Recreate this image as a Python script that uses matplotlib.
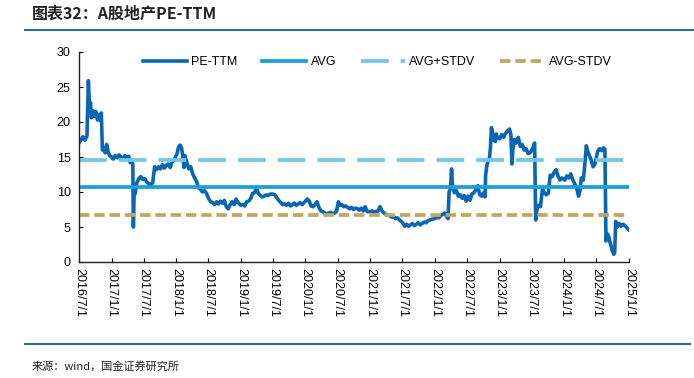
import matplotlib
matplotlib.use('Agg')
import matplotlib.pyplot as plt
import pandas as pd

plt.rcParams['font.family'] = ['Liberation Sans', 'Noto Sans CJK SC', 'DejaVu Sans']
plt.rcParams['lines.scale_dashes'] = False

# PE-TTM series
dates = [
    '2016-07-01', '2016-07-12', '2016-07-23', '2016-08-03', '2016-08-15', '2016-08-23', '2016-08-29', '2016-09-04',
    '2016-09-09', '2016-09-18', '2016-09-26', '2016-10-04', '2016-10-13', '2016-10-21', '2016-10-29', '2016-11-04',
    '2016-11-10', '2016-11-18', '2016-11-26', '2016-12-04', '2016-12-13', '2016-12-21',
    '2017-01-01', '2017-01-10', '2017-01-21', '2017-02-01', '2017-02-12', '2017-02-23', '2017-03-06', '2017-03-17',
    '2017-03-28', '2017-04-08', '2017-04-16', '2017-04-25', '2017-05-01', '2017-05-04', '2017-05-09', '2017-05-15',
    '2017-05-23', '2017-06-04', '2017-06-15', '2017-06-26',
    '2017-07-08', '2017-07-19', '2017-07-30', '2017-08-10', '2017-08-21', '2017-09-01', '2017-09-12', '2017-09-23',
    '2017-10-04', '2017-10-15', '2017-10-26', '2017-11-06', '2017-11-17', '2017-11-28', '2017-12-09', '2017-12-20',
    '2018-01-06', '2018-01-14', '2018-01-23', '2018-01-31', '2018-02-08', '2018-02-14', '2018-02-19', '2018-03-02',
    '2018-03-13', '2018-03-24', '2018-04-04', '2018-04-15', '2018-04-26', '2018-05-07', '2018-05-18', '2018-05-29',
    '2018-06-10', '2018-06-21',
    '2018-07-04', '2018-07-15', '2018-07-26', '2018-08-06', '2018-08-17', '2018-08-28', '2018-09-08', '2018-09-19',
    '2018-09-30', '2018-10-11', '2018-10-22', '2018-11-02', '2018-11-13', '2018-11-24', '2018-12-05', '2018-12-16',
    '2019-01-01', '2019-01-12', '2019-01-23', '2019-02-03', '2019-02-14', '2019-02-25', '2019-03-08', '2019-03-19',
    '2019-03-30', '2019-04-10', '2019-04-21', '2019-05-02', '2019-05-13', '2019-05-24', '2019-06-04', '2019-06-15',
    '2019-07-01', '2019-07-12', '2019-07-23', '2019-08-03', '2019-08-14', '2019-08-25', '2019-09-05', '2019-09-16',
    '2019-09-27', '2019-10-08', '2019-10-19', '2019-10-30', '2019-11-10', '2019-11-21', '2019-12-02', '2019-12-13',
    '2020-01-01', '2020-01-11', '2020-01-22', '2020-02-02', '2020-02-13', '2020-02-24', '2020-03-06', '2020-03-17',
    '2020-03-28', '2020-04-08', '2020-04-19', '2020-04-30', '2020-05-11', '2020-05-22', '2020-06-02', '2020-06-13',
    '2020-06-24',
    '2020-07-05', '2020-07-13', '2020-07-24', '2020-08-04', '2020-08-15', '2020-08-26', '2020-09-06', '2020-09-17',
    '2020-09-28', '2020-10-09', '2020-10-20', '2020-10-31', '2020-11-11', '2020-11-22', '2020-12-03', '2020-12-14',
    '2021-01-01', '2021-01-12', '2021-01-23', '2021-02-03', '2021-02-14', '2021-02-25', '2021-03-08', '2021-03-19',
    '2021-03-30', '2021-04-10', '2021-04-21', '2021-05-02', '2021-05-13', '2021-05-24', '2021-06-04', '2021-06-15',
    '2021-07-03', '2021-07-14', '2021-07-25', '2021-08-05', '2021-08-16', '2021-08-27', '2021-09-07', '2021-09-18',
    '2021-09-29', '2021-10-10', '2021-10-21', '2021-11-01', '2021-11-12', '2021-11-23', '2021-12-04', '2021-12-15',
    '2022-01-01', '2022-01-12', '2022-01-23', '2022-02-03', '2022-02-14', '2022-02-25', '2022-03-08', '2022-03-16',
    '2022-03-22', '2022-03-30', '2022-04-05', '2022-04-10', '2022-04-21', '2022-05-02', '2022-05-13', '2022-05-24',
    '2022-06-04', '2022-06-15', '2022-06-26',
    '2022-07-07', '2022-07-18', '2022-07-29', '2022-08-09', '2022-08-20', '2022-08-31', '2022-09-11', '2022-09-22',
    '2022-10-03', '2022-10-11', '2022-10-14', '2022-10-20', '2022-10-28', '2022-11-05', '2022-11-11', '2022-11-16',
    '2022-11-22', '2022-11-27', '2022-12-03', '2022-12-08', '2022-12-14', '2022-12-19',
    '2023-01-02', '2023-01-13', '2023-01-24', '2023-02-04', '2023-02-15', '2023-02-26', '2023-03-06', '2023-03-12',
    '2023-03-17', '2023-03-26', '2023-04-06', '2023-04-17', '2023-04-28', '2023-05-09', '2023-05-20', '2023-05-31',
    '2023-06-11', '2023-06-22',
    '2023-07-07', '2023-07-18', '2023-07-24', '2023-07-31', '2023-08-09', '2023-08-20', '2023-08-31', '2023-09-11',
    '2023-09-22', '2023-10-03', '2023-10-14', '2023-10-25', '2023-11-05', '2023-11-16', '2023-11-27', '2023-12-08',
    '2023-12-19',
    '2024-01-05', '2024-01-16', '2024-01-27', '2024-02-07', '2024-02-18', '2024-02-29', '2024-03-11', '2024-03-22',
    '2024-03-30', '2024-04-07', '2024-04-18', '2024-04-26', '2024-05-05', '2024-05-13', '2024-05-21', '2024-06-01',
    '2024-06-12', '2024-06-23',
    '2024-07-08', '2024-07-19', '2024-07-30', '2024-08-10', '2024-08-18', '2024-08-24', '2024-09-01', '2024-09-09',
    '2024-09-18', '2024-09-29', '2024-10-07', '2024-10-12', '2024-10-18', '2024-10-26', '2024-11-06', '2024-11-17',
    '2024-11-28', '2024-12-09', '2024-12-20', '2024-12-31',
]
pe = [
    17.0, 17.4, 17.9, 17.4, 18.0, 25.9, 22.3, 22.8, 20.6, 21.6, 20.8, 21.5, 20.3, 21.0, 20.2, 21.3,
    16.0, 16.3, 15.6, 16.8, 15.7, 15.2,
    15.0, 14.7, 15.2, 14.9, 15.3, 15.0, 14.7, 15.2, 14.8, 15.1, 14.2, 14.6, 13.9, 5.0, 10.6, 9.8,
    11.3, 11.9, 12.2, 11.8,
    11.9, 11.4, 11.2, 11.1, 11.3, 13.6, 13.2, 13.6, 13.3, 13.9, 13.4, 13.8, 14.0, 13.5, 14.3, 14.6,
    15.5, 16.4, 16.7, 16.3, 15.0, 13.5, 15.2, 14.2, 13.3, 13.6, 12.6, 12.0, 11.5, 10.6, 10.4, 10.0,
    10.2, 9.8,
    9.0, 8.6, 8.5, 8.2, 8.6, 8.3, 8.7, 8.4, 8.8, 7.9, 7.6, 8.2, 8.6, 8.2, 9.0, 8.5,
    8.1, 8.2, 8.0, 8.6, 8.7, 9.0, 9.8, 9.9, 10.5, 9.8, 9.5, 9.3, 9.4, 9.6, 9.5, 9.7,
    9.7, 9.6, 9.2, 8.8, 8.5, 8.2, 8.3, 8.1, 8.4, 8.0, 8.2, 8.4, 8.1, 8.3, 8.5, 8.2,
    8.7, 9.0, 8.7, 8.0, 7.9, 8.2, 8.6, 7.8, 7.3, 7.2, 7.0, 6.9, 7.0, 7.1, 6.9, 7.0,
    7.2,
    8.6, 8.1, 8.2, 7.9, 8.0, 7.8, 7.6, 7.8, 7.5, 7.7, 7.6, 7.4, 7.7, 7.3, 7.9, 7.2,
    7.2, 7.3, 7.1, 7.2, 7.3, 7.9, 7.3, 7.0, 6.8, 6.7, 6.6, 6.4, 6.5, 6.2, 6.3, 6.0,
    5.6, 5.1, 5.4, 5.1, 5.3, 5.5, 5.2, 5.4, 5.6, 5.3, 5.5, 5.7, 5.6, 5.9, 6.0, 6.1,
    6.2, 6.4, 6.3, 6.6, 6.8, 7.0, 6.5, 6.2, 10.0, 10.5, 13.3, 11.0, 9.9, 10.2, 9.4, 9.6,
    9.1, 9.5, 8.7,
    9.4, 8.8, 9.7, 9.9, 10.3, 10.9, 9.6, 9.4, 9.9, 9.3, 12.3, 13.6, 14.5, 14.8, 16.5, 19.2,
    18.6, 17.4, 18.0, 17.2, 18.3, 17.8,
    17.6, 18.2, 17.8, 18.4, 18.7, 19.0, 18.2, 14.0, 16.0, 17.5, 17.0, 17.8, 16.5, 16.8, 16.0, 16.2,
    15.5, 15.6,
    16.2, 17.0, 6.0, 7.5, 8.1, 7.9, 10.4, 9.9, 9.6, 9.8, 12.4, 12.2, 12.8, 13.2, 12.3, 11.7,
    12.0,
    11.7, 12.3, 12.0, 12.6, 11.8, 11.2, 10.6, 9.4, 10.2, 12.0, 11.7, 13.8, 16.6, 15.8, 15.3, 14.6,
    13.6, 14.0,
    15.8, 16.2, 15.9, 16.3, 16.1, 3.0, 4.0, 3.6, 2.6, 1.6, 1.1, 1.3, 5.8, 5.0, 5.5, 5.1,
    5.4, 5.2, 4.9, 4.6,
]
avg = 10.65
avg_plus = 14.6
avg_minus = 6.65
series_names = ['PE-TTM', 'AVG', 'AVG+STDV', 'AVG-STDV']
tick_dates = pd.date_range('2016-07-01', '2025-01-01', freq='6MS')
tick_labels = [f'{d.year}/{d.month}/{d.day}' for d in tick_dates]
y_ticks = [0, 5, 10, 15, 20, 25, 30]

x = pd.to_datetime(dates)

fig = plt.figure(figsize=(6.94, 3.78), dpi=100)
ax = fig.add_axes([79 / 694, 1 - 262 / 378, 550 / 694, 210 / 378])

ax.plot(x, pe, color='#0A66B2', lw=2.6, label=series_names[0], solid_joinstyle='round')
ax.plot(x, [avg] * len(x), color='#1C9EDE', lw=2.7, label=series_names[1])
ax.plot(x, [avg_plus] * len(x), color='#72C5F1', lw=2.7, dashes=(20, 8.6),
        dash_capstyle='butt', label=series_names[2])
ax.plot(x, [avg_minus] * len(x), color='#C3A465', lw=2.7, dashes=(7.5, 3.5),
        dash_capstyle='butt', label=series_names[3])

ax.set_xlim(tick_dates[0], tick_dates[-1])
ax.set_ylim(0, 30)
ax.set_yticks(y_ticks)
ax.set_xticks(tick_dates)
ax.set_xticklabels(tick_labels, rotation=270, fontsize=9)
ax.tick_params(axis='y', labelsize=9, direction='in', length=3, pad=6)
ax.tick_params(axis='x', direction='in', length=3, pad=4)
for s in ['top', 'right']:
    ax.spines[s].set_visible(False)
for s in ['left', 'bottom']:
    ax.spines[s].set_linewidth(1)
    ax.spines[s].set_color('#222222')

ax.legend(loc='upper left', bbox_to_anchor=(143 / 694, 1 - 56 / 378), bbox_transform=fig.transFigure,
          ncol=4, frameon=False, fontsize=9, handlelength=3.5, handletextpad=0.35,
          columnspacing=2.0, borderpad=0, borderaxespad=0)

# title and source
fig.text(32 / 694, 1 - 14 / 378, '图表32：A股地产PE-TTM', fontsize=11.5, fontweight='bold',
         style='italic', family=['Noto Sans CJK SC', 'DejaVu Sans'], va='center', color='#222222')
fig.add_artist(plt.Line2D([25 / 694, 1], [1 - 30 / 378, 1 - 30 / 378], color='#2E6A92', lw=1.5))
fig.add_artist(plt.Line2D([25 / 694, 690 / 694], [1 - 344 / 378, 1 - 344 / 378], color='#2E6A92', lw=1.5))
fig.text(32 / 694, 1 - 366 / 378, '来源：wind，国金证券研究所', fontsize=8,
         family=['Noto Sans CJK SC', 'DejaVu Sans'], va='center', color='#222222')

fig.savefig('out.png', dpi=100)
